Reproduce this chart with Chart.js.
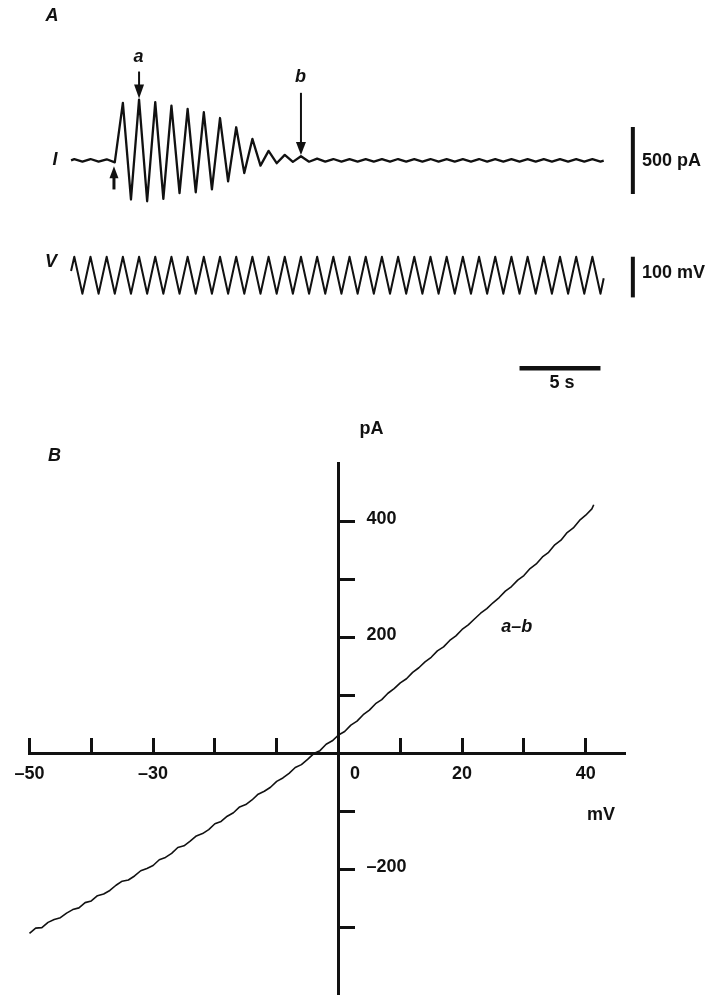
<!DOCTYPE html>
<html>
<head>
<meta charset="utf-8">
<title>Oscillating current and a–b I–V relation</title>
<style>
  html, body { margin: 0; padding: 0; background: #fff; }
  #figure { position: relative; width: 716px; height: 995px; }
  #figure canvas { position: absolute; left: 0; top: 0; }
</style>
</head>
<body>
<div id="figure">
  <canvas id="traces" width="716" height="395"></canvas>
  <canvas id="ivCurve" width="716" height="995"></canvas>
</div>
<script src="https://cdn.jsdelivr.net/npm/chart.js@4.4.1/dist/chart.umd.min.js"></script>
<script>
// panel A: time (s) of each ramp corner, command voltage (mV) and membrane current (pA)
const timeSeconds = [-0.2, 0, 0.5, 1, 1.5, 2, 2.5, 3, 3.5, 4, 4.5, 5, 5.5, 6, 6.5, 7, 7.5, 8, 8.5, 9, 9.5,
  10, 10.5, 11, 11.5, 12, 12.5, 13, 13.5, 14, 14.5, 15, 15.5, 16, 16.5, 17, 17.5, 18, 18.5, 19, 19.5,
  20, 20.5, 21, 21.5, 22, 22.5, 23, 23.5, 24, 24.5, 25, 25.5, 26, 26.5, 27, 27.5, 28, 28.5, 29, 29.5,
  30, 30.5, 31, 31.5, 32, 32.5, 32.7];
const voltageCommand = [6, 41, -50, 41, -50, 41, -50, 41, -50, 41, -50, 41, -50, 41, -50, 41, -50, 41, -50, 41, -50,
  41, -50, 41, -50, 41, -50, 41, -50, 41, -50, 41, -50, 41, -50, 41, -50, 41, -50, 41, -50,
  41, -50, 41, -50, 41, -50, 41, -50, 41, -50, 41, -50, 41, -50, 41, -50, 41, -50, 41, -50,
  41, -50, 41, -50, 41, -50, -12];
const currentTrace = [1, 10, -8, 11, -9, 9, -14, 430, -291, 455, -304, 435, -286, 410, -244, 385, -237, 360, -216, 317, -156,
  248, -94, 161, -38, 72, -20, 42, -10, 32, -9, 14, -8, 11, -9, 10, -8, 11, -8, 10, -9,
  11, -8, 10, -8, 11, -9, 10, -8, 10, -8, 11, -9, 10, -8, 11, -8, 10, -9, 10, -8,
  11, -8, 10, -9, 10, -8, -1];

// panel B: a–b difference current against ramp voltage
const rampVoltage = [-50, -49, -48, -47, -46, -45, -44, -43, -42, -41, -40, -39, -38, -37, -36, -35, -34, -33, -32, -31,
  -30, -29, -28, -27, -26, -25, -24, -23, -22, -21, -20, -19, -18, -17, -16, -15, -14, -13, -12, -11,
  -10, -9, -8, -7, -6, -5, -4, -3, -2, -1, 0, 1, 2, 3, 4, 5, 6, 7, 8, 9,
  10, 11, 12, 13, 14, 15, 16, 17, 18, 19, 20, 21, 22, 23, 24, 25, 26, 27, 28, 29,
  30, 31, 32, 33, 34, 35, 36, 37, 38, 39, 40, 41, 41.3];
const rampCurrent = [-311, -302, -301, -292, -287, -284, -276, -270, -267, -258, -255, -246, -243, -237, -228, -221, -219, -212, -203, -199,
  -194, -184, -180, -173, -163, -160, -152, -143, -139, -132, -122, -118, -109, -103, -93, -89, -81, -71, -66, -59,
  -49, -43, -35, -25, -20, -11, -1, 4, 15, 21, 31, 37, 48, 55, 66, 74, 85, 92, 103, 111,
  121, 128, 139, 147, 157, 165, 176, 183, 194, 202, 213, 221, 231, 241, 249, 259, 268, 279, 287, 298,
  306, 318, 326, 338, 346, 359, 367, 380, 388, 401, 410, 421, 428];

const xTickLabels = [-50, -30, 20, 40];
const yTickLabels = [400, 200, -200];

// calibration bars
const currentBar = 500;   // pA
const voltageBar = 100;   // mV
const timeBar = 5;        // s

const ink = '#111';
const family = "'Liberation Sans', Arial, Helvetica, sans-serif";
const plainFont = 'bold 18px ' + family;
const italicFont = 'italic bold 18px ' + family;
Chart.defaults.font.family = family;
Chart.defaults.color = ink;

const minus = v => (v < 0 ? '\u2013' + Math.abs(v) : String(v));

function bar(ctx, x1, y1, x2, y2, w) {
  ctx.lineWidth = w;
  ctx.beginPath();
  ctx.moveTo(x1, y1);
  ctx.lineTo(x2, y2);
  ctx.stroke();
}

function arrow(ctx, x, yTail, yTip, headLen, headHalf, w) {
  const dir = Math.sign(yTip - yTail);
  bar(ctx, x, yTail, x, yTip - dir * headLen * 0.8, w);
  ctx.beginPath();
  ctx.moveTo(x, yTip);
  ctx.lineTo(x - headHalf, yTip - dir * headLen);
  ctx.lineTo(x + headHalf, yTip - dir * headLen);
  ctx.closePath();
  ctx.fill();
}

function label(ctx, txt, x, y, font, align) {
  ctx.font = font;
  ctx.textAlign = align || 'center';
  ctx.textBaseline = 'middle';
  ctx.fillText(txt, x, y);
}

// arrows, calibration bars and lettering of panel A
const tracesMarks = {
  id: 'tracesMarks',
  afterDraw(chart) {
    const { ctx } = chart;
    const { x, yI, yV } = chart.scales;
    ctx.save();
    ctx.strokeStyle = ink;
    ctx.fillStyle = ink;
    ctx.lineCap = 'butt';

    const barX = x.getPixelForValue(34.5);
    bar(ctx, barX, yI.getPixelForValue(-currentBar / 2), barX, yI.getPixelForValue(currentBar / 2), 4);
    bar(ctx, barX, yV.getPixelForValue(41 - voltageBar), barX, yV.getPixelForValue(41), 4);
    const tY = yV.getPixelForValue(-233);
    bar(ctx, x.getPixelForValue(32.5 - timeBar), tY, x.getPixelForValue(32.5), tY, 4.5);

    arrow(ctx, x.getPixelForValue(4), yI.getPixelForValue(664), yI.getPixelForValue(462), 14, 5, 2);
    arrow(ctx, x.getPixelForValue(14), yI.getPixelForValue(505), yI.getPixelForValue(42), 13, 5, 2);
    arrow(ctx, x.getPixelForValue(2.45), yI.getPixelForValue(-216), yI.getPixelForValue(-42), 12, 4.5, 3);

    label(ctx, 'A', 52, 16, italicFont);
    label(ctx, 'a', 138.5, 57, italicFont);
    label(ctx, 'b', 300.5, 77, italicFont);
    label(ctx, 'I', 55, 160, italicFont);
    label(ctx, 'V', 51, 262, italicFont);
    label(ctx, currentBar + ' pA', 642, 161.5, plainFont, 'left');
    label(ctx, voltageBar + ' mV', 642, 273, plainFont, 'left');
    label(ctx, timeBar + ' s', 562, 383, plainFont);
    ctx.restore();
  }
};

new Chart(document.getElementById('traces'), {
  type: 'line',
  data: {
    datasets: [{
      label: 'I',
      data: timeSeconds.map((t, i) => ({ x: t, y: currentTrace[i] })),
      yAxisID: 'yI',
      borderColor: ink,
      borderWidth: 2.3,
      borderJoinStyle: 'round',
      pointRadius: 0,
      tension: 0
    }, {
      label: 'V',
      data: timeSeconds.map((t, i) => ({ x: t, y: voltageCommand[i] })),
      yAxisID: 'yV',
      borderColor: ink,
      borderWidth: 2,
      borderJoinStyle: 'round',
      pointRadius: 0,
      tension: 0
    }]
  },
  options: {
    responsive: false,
    animation: false,
    devicePixelRatio: 1,
    layout: { padding: 0 },
    plugins: { legend: { display: false }, tooltip: { enabled: false } },
    scales: {
      x: { type: 'linear', display: false, min: -4.5892, max: 39.6356 },
      yI: { type: 'linear', display: false, min: -1750, max: 1197.8 },
      yV: { type: 'linear', display: false, min: -299.1, max: 672.6 }
    }
  },
  plugins: [tracesMarks]
});

// tick numbers on the current axis and the axis titles of panel B
const ivMarks = {
  id: 'ivMarks',
  afterDraw(chart) {
    const { ctx } = chart;
    const { x, y } = chart.scales;
    const x0 = x.getPixelForValue(0);
    ctx.save();
    ctx.fillStyle = ink;
    yTickLabels.forEach(v => label(ctx, minus(v), x0 + 28, y.getPixelForValue(v) - 1.5, plainFont, 'left'));
    label(ctx, '0', x0 + 11.5, y.getPixelForValue(0) + 21, plainFont, 'left');
    label(ctx, 'pA', 371.5, 429, plainFont);
    label(ctx, 'mV', 601, 815, plainFont);
    label(ctx, 'B', 54.5, 456, italicFont);
    label(ctx, 'a\u2013b', 516.7, 627, italicFont);
    ctx.restore();
  }
};

const noSpace = horizontal => scale => {
  if (horizontal) scale.height = 0; else scale.width = 0;
  scale.paddingLeft = scale.paddingRight = scale.paddingTop = scale.paddingBottom = 0;
};

new Chart(document.getElementById('ivCurve'), {
  type: 'line',
  data: {
    datasets: [{
      label: 'a\u2013b',
      data: rampVoltage.map((v, i) => ({ x: v, y: rampCurrent[i] })),
      borderColor: ink,
      borderWidth: 1.6,
      borderJoinStyle: 'round',
      pointRadius: 0,
      tension: 0,
      clip: false
    }]
  },
  options: {
    responsive: false,
    animation: false,
    devicePixelRatio: 1,
    layout: { padding: { left: 29.5, right: 91, top: 463, bottom: 0 } },
    plugins: { legend: { display: false }, tooltip: { enabled: false } },
    scales: {
      x: {
        type: 'linear',
        min: -50,
        max: 46.36,
        position: { y: 0 },
        afterFit: noSpace(true),
        afterBuildTicks: s => { s.ticks = s.ticks.filter(t => t.value >= -50 && t.value <= 40); },
        border: { display: true, color: ink, width: 3 },
        grid: { display: true, drawOnChartArea: false, drawTicks: true, tickLength: -17, tickWidth: 3, tickColor: ink },
        ticks: {
          stepSize: 10,
          includeBounds: false,
          autoSkip: false,
          maxRotation: 0,
          padding: 27,
          color: ink,
          font: { size: 18, weight: 'bold' },
          callback: v => (xTickLabels.includes(Math.round(v)) ? minus(Math.round(v)) : '')
        }
      },
      y: {
        type: 'linear',
        min: -417.24,
        max: 500,
        position: { x: 0 },
        afterFit: noSpace(false),
        afterBuildTicks: s => { s.ticks = s.ticks.filter(t => t.value >= -300 && t.value <= 400); },
        border: { display: true, color: ink, width: 3 },
        grid: { display: true, drawOnChartArea: false, drawTicks: true, tickLength: -18, tickWidth: 3, tickColor: ink },
        ticks: { stepSize: 100, includeBounds: false, display: false }
      }
    }
  },
  plugins: [ivMarks]
});
</script>
</body>
</html>
